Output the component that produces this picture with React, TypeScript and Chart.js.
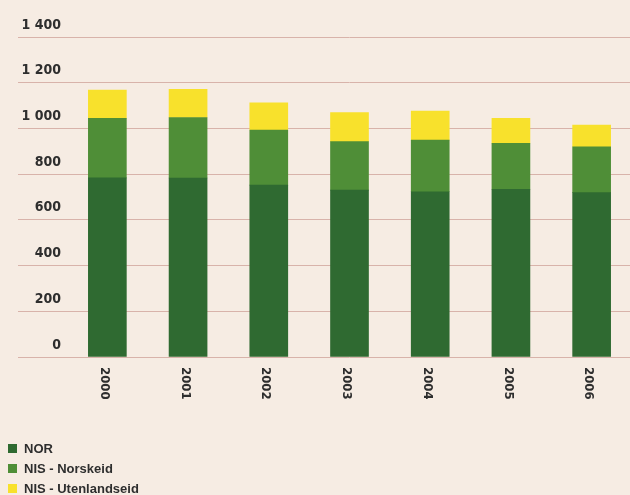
import React, { useEffect, useRef } from "react";
import { Chart, registerables } from "chart.js";

Chart.register(...registerables);

// ---- Data ----
const categories = ["2000", "2001", "2002", "2003", "2004", "2005", "2006"];
const seriesNames = ["NOR", "NIS - Norskeid", "NIS - Utenlandseid"];
const norValues = [784, 783, 752, 730, 723, 734, 719];
const nisNorskeidValues = [260, 265, 241, 212, 226, 201, 201];
const nisUtenlandseidValues = [124, 123, 119, 127, 127, 109, 95];
const yTickValues = [0, 200, 400, 600, 800, 1000, 1200, 1400];
const yTickLabels = ["0", "200", "400", "600", "800", "1 000", "1 200", "1 400"];

// ---- Styles ----
const seriesColors = ["#2f6a31", "#4f8e37", "#f8e12c"];
const background = "#f6ece3";
const gridColor = "#d8b3aa";
const textColor = "#2e2e2e";
const tickFamily = "'DejaVu Sans Condensed', 'Liberation Sans Narrow', 'DejaVu Sans', sans-serif";

const xLabelPlugin = {
  id: "rotatedXLabels",
  afterDraw(chart: any) {
    const ctx = chart.ctx;
    const xs = chart.scales.x;
    ctx.save();
    ctx.font = `bold 13px ${tickFamily}`;
    ctx.fillStyle = textColor;
    ctx.textAlign = "left";
    ctx.textBaseline = "middle";
    categories.forEach((c, i) => {
      const x = xs.getPixelForValue(i) - 3;
      ctx.save();
      ctx.translate(x, chart.chartArea.bottom + 10);
      ctx.rotate(Math.PI / 2);
      ctx.fillText(c, 0, 0);
      ctx.restore();
    });
    ctx.restore();
  },
};

export default function App() {
  const canvasRef = useRef<HTMLCanvasElement | null>(null);

  useEffect(() => {
    if (!canvasRef.current) return;
    const seriesValues = [norValues, nisNorskeidValues, nisUtenlandseidValues];
    const chart = new Chart(canvasRef.current, {
      type: "bar",
      data: {
        labels: categories,
        datasets: seriesNames.map((name, i) => ({
          label: name,
          data: seriesValues[i],
          backgroundColor: seriesColors[i],
          borderWidth: 0,
          barThickness: 38,
        })),
      },
      options: {
        animation: false,
        responsive: false,
        devicePixelRatio: 1,
        layout: { padding: { top: 37, left: 0, right: 0, bottom: 0 } },
        plugins: {
          legend: { display: false },
          tooltip: { enabled: false },
        },
        scales: {
          x: {
            stacked: true,
            grid: { display: false, drawTicks: false },
            border: { display: false },
            ticks: { display: false },
            afterFit: (s: any) => {
              s.height = 138;
            },
          },
          y: {
            stacked: true,
            min: 0,
            max: 1400,
            ticks: {
              stepSize: 200,
              padding: -43,
              labelOffset: -12,
              color: textColor,
              font: { family: tickFamily, size: 14, weight: "bold" },
              callback: (v: any) => {
                const idx = yTickValues.indexOf(Number(v));
                return idx >= 0 ? yTickLabels[idx] : "";
              },
            },
            grid: {
              color: gridColor,
              tickColor: gridColor,
              tickLength: 49,
              lineWidth: 1,
              drawTicks: true,
            },
            border: { display: false },
            afterFit: (s: any) => {
              s.width = 67;
            },
          },
        },
      },
      plugins: [xLabelPlugin],
    });
    return () => chart.destroy();
  }, []);

  return (
    <div
      style={{
        position: "fixed",
        left: 0,
        top: 0,
        width: 630,
        height: 495,
        overflow: "hidden",
        background,
      }}
    >
      <canvas ref={canvasRef} width={632} height={495} style={{ display: "block" }} />
      <div
        style={{
          position: "absolute",
          left: 8,
          top: 438,
          font: "bold 13px 'Liberation Sans', Arial, sans-serif",
          color: textColor,
        }}
      >
        {seriesNames.map((n, i) => (
          <div key={n} style={{ display: "flex", alignItems: "center", height: 20, whiteSpace: "nowrap" }}>
            <span
              style={{
                display: "inline-block",
                width: 9,
                height: 9,
                background: seriesColors[i],
                marginRight: 7,
              }}
            />
            {n}
          </div>
        ))}
      </div>
    </div>
  );
}
